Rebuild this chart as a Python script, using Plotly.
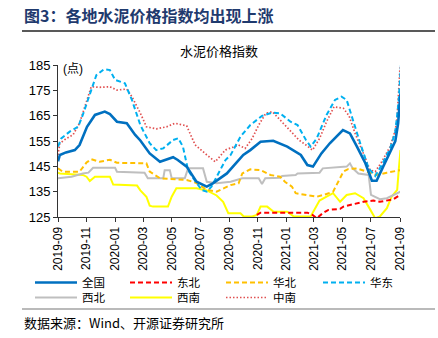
import plotly.graph_objects as go

# ---- cement price index by region (points) ----
qg_dates = ["2019-09-01", "2019-09-05", "2019-09-18", "2019-10-07", "2019-10-17", "2019-11-02",
            "2019-11-19", "2019-12-10", "2019-12-21", "2020-01-05", "2020-01-26", "2020-02-13",
            "2020-02-24", "2020-03-15", "2020-04-06", "2020-05-04", "2020-05-14", "2020-06-02",
            "2020-06-23", "2020-07-15", "2020-07-28", "2020-08-27", "2020-10-01", "2020-10-16",
            "2020-11-07", "2020-12-04", "2021-01-03", "2021-02-01", "2021-02-15", "2021-02-27",
            "2021-03-17", "2021-04-04", "2021-05-02", "2021-05-17", "2021-06-01", "2021-06-19",
            "2021-07-03", "2021-07-13", "2021-07-27", "2021-08-11", "2021-08-22", "2021-08-28",
            "2021-09-02"]
qg_vals = [147.0, 149.5, 150.5, 151.4, 153.4, 160.6, 165.3, 166.6, 165.6, 162.6, 162.0, 157.4,
           155.2, 150.1, 146.8, 148.6, 147.5, 144.9, 138.9, 137.0, 138.3, 142.2, 149.5, 151.4,
           154.7, 155.1, 152.8, 149.5, 145.5, 144.9, 150.1, 154.1, 159.3, 158.0, 152.8, 146.2,
           139.3, 139.3, 144.9, 150.5, 155.0, 162.0, 173.8]

db_dates = ["2020-10-30", "2020-11-07", "2021-02-15", "2021-02-26", "2021-03-07", "2021-03-20",
            "2021-04-01", "2021-04-26", "2021-05-03", "2021-05-24", "2021-06-15", "2021-07-06",
            "2021-07-20", "2021-08-18", "2021-09-01"]
db_vals = [125.8, 126.7, 126.7, 125.8, 124.5, 126.5, 127.8, 128.2, 129.1, 130.1, 131.0, 131.5,
           131.0, 132.0, 133.7]

hb_dates = ["2019-09-01", "2019-09-11", "2019-10-17", "2019-11-01", "2019-11-11", "2019-11-29",
            "2019-12-21", "2020-01-05", "2020-03-08", "2020-03-15", "2020-04-06", "2020-06-02",
            "2020-06-22", "2020-07-15", "2020-08-05", "2020-09-04", "2020-09-21", "2020-09-29",
            "2020-10-16", "2020-11-07", "2020-11-28", "2020-12-19", "2020-12-29", "2021-01-13",
            "2021-01-21", "2021-02-15", "2021-03-07", "2021-03-28", "2021-04-11", "2021-04-22",
            "2021-05-03", "2021-05-13", "2021-06-01", "2021-06-22", "2021-07-13", "2021-08-04",
            "2021-09-02"]
hb_vals = [144.2, 142.9, 142.9, 146.5, 147.8, 146.8, 147.6, 146.4, 146.2, 142.9, 140.3, 139.6,
           138.5, 135.7, 135.0, 137.6, 138.3, 142.2, 143.8, 143.5, 141.6, 140.9, 138.9, 137.0,
           134.4, 133.7, 133.0, 134.1, 135.0, 138.9, 142.9, 143.9, 144.2, 142.9, 141.6, 142.5,
           143.5]

hd_dates = ["2019-09-01", "2019-09-08", "2019-09-26", "2019-10-14", "2019-10-24", "2019-11-08",
            "2019-11-22", "2019-12-08", "2019-12-21", "2020-01-01", "2020-01-22", "2020-02-06",
            "2020-02-24", "2020-03-15", "2020-03-29", "2020-04-13", "2020-05-04", "2020-05-15",
            "2020-05-25", "2020-06-05", "2020-06-16", "2020-07-04", "2020-07-15", "2020-07-25",
            "2020-08-13", "2020-08-24", "2020-09-04", "2020-09-25", "2020-10-16", "2020-11-10",
            "2020-12-02", "2020-12-19", "2021-01-10", "2021-01-25", "2021-02-12", "2021-02-22",
            "2021-03-07", "2021-03-28", "2021-04-15", "2021-04-29", "2021-05-10", "2021-05-21",
            "2021-06-08", "2021-06-26", "2021-07-10", "2021-07-24", "2021-08-11", "2021-08-22",
            "2021-08-29", "2021-09-03"]
hd_vals = [152.8, 156.0, 158.7, 160.6, 165.3, 173.8, 181.0, 183.3, 183.0, 179.1, 177.8, 171.2,
           161.3, 154.1, 151.4, 152.1, 155.4, 156.1, 152.8, 143.5, 140.3, 135.7, 135.0, 137.0,
           143.5, 147.5, 149.5, 156.7, 161.3, 164.9, 166.2, 165.9, 162.6, 161.3, 155.4, 152.8,
           156.0, 165.3, 171.2, 172.5, 171.2, 164.6, 154.1, 144.2, 141.2, 145.5, 152.1, 158.7,
           170.5, 185.0]

xb_dates = ["2019-09-01", "2019-09-30", "2019-10-24", "2019-11-05", "2019-11-15", "2020-01-01",
            "2020-01-05", "2020-03-04", "2020-03-11", "2020-04-13", "2020-04-16", "2020-04-27",
            "2020-05-01", "2020-05-29", "2020-06-05", "2020-07-07", "2020-07-15", "2020-08-05",
            "2020-09-04", "2020-09-29", "2020-11-03", "2020-11-10", "2020-11-17", "2020-12-19",
            "2020-12-23", "2021-01-21", "2021-01-25", "2021-03-13", "2021-03-20", "2021-05-10",
            "2021-05-17", "2021-05-23", "2021-06-04", "2021-06-26", "2021-07-01", "2021-07-20",
            "2021-08-04", "2021-08-11", "2021-08-26", "2021-09-02"]
xb_vals = [140.3, 140.9, 142.2, 142.5, 144.4, 144.4, 142.9, 142.5, 140.3, 140.3, 143.5, 143.5,
           140.3, 140.3, 144.2, 144.2, 138.9, 138.3, 138.9, 140.3, 140.3, 138.0, 140.3, 140.5,
           141.2, 141.6, 142.2, 142.5, 144.2, 144.9, 146.2, 144.2, 142.2, 141.6, 133.7, 132.0,
           132.4, 133.0, 134.4, 135.0]

xn_dates = ["2019-09-01", "2019-09-05", "2019-10-24", "2019-11-01", "2019-11-08", "2019-11-19",
            "2019-12-21", "2019-12-28", "2020-02-17", "2020-02-24", "2020-03-08", "2020-03-15",
            "2020-03-22", "2020-04-23", "2020-05-01", "2020-05-11", "2020-06-23", "2020-07-15",
            "2020-08-05", "2020-08-19", "2020-08-30", "2020-09-25", "2020-10-02", "2020-10-20",
            "2020-10-30", "2020-11-07", "2020-11-21", "2020-12-05", "2021-01-03", "2021-01-17",
            "2021-02-22", "2021-03-07", "2021-03-13", "2021-03-28", "2021-04-11", "2021-04-26",
            "2021-05-10", "2021-05-28", "2021-06-15", "2021-06-26", "2021-07-03", "2021-07-10",
            "2021-07-20", "2021-08-04", "2021-08-14", "2021-08-26", "2021-08-29", "2021-09-02"]
xn_vals = [142.5, 142.2, 141.6, 140.9, 139.2, 140.9, 140.9, 137.8, 137.4, 135.5, 133.0, 129.5,
           129.1, 129.1, 133.0, 136.3, 136.3, 135.5, 133.5, 131.0, 126.5, 126.5, 125.2, 125.2,
           125.8, 129.1, 129.1, 127.1, 127.1, 125.2, 125.2, 129.5, 131.5, 133.0, 134.4, 131.0,
           133.7, 134.4, 132.4, 129.0, 126.5, 124.5, 125.2, 128.5, 133.0, 135.7, 142.9, 151.4]

zn_dates = ["2019-09-01", "2019-09-05", "2019-09-19", "2019-10-03", "2019-10-17", "2019-10-28",
            "2019-11-11", "2019-11-29", "2019-12-21", "2020-01-05", "2020-01-26", "2020-02-06",
            "2020-02-24", "2020-03-08", "2020-03-29", "2020-04-20", "2020-05-08", "2020-06-02",
            "2020-06-20", "2020-07-15", "2020-08-02", "2020-08-24", "2020-09-21", "2020-10-05",
            "2020-10-20", "2020-11-03", "2020-11-18", "2020-12-02", "2020-12-19", "2021-01-10",
            "2021-01-28", "2021-02-12", "2021-02-26", "2021-03-13", "2021-03-28", "2021-04-13",
            "2021-05-03", "2021-05-15", "2021-05-28", "2021-06-15", "2021-06-29", "2021-07-10",
            "2021-07-23", "2021-08-11", "2021-08-22", "2021-08-26", "2021-09-01"]
zn_vals = [149.5, 154.1, 156.0, 157.4, 162.0, 168.5, 176.4, 176.2, 176.4, 175.1, 175.5, 172.5,
           166.0, 160.6, 159.8, 160.6, 162.0, 161.0, 153.5, 149.5, 146.8, 151.5, 153.4, 152.1,
           156.0, 161.3, 165.9, 166.6, 163.3, 158.7, 155.4, 153.4, 151.4, 156.0, 162.6, 168.5,
           167.9, 165.0, 158.0, 150.0, 143.5, 142.9, 146.5, 152.8, 159.3, 164.6, 184.0]

x_ticks_start, x_ticks_end = "2019-09-01", "2021-09-01"
y_min, y_max, y_step = 125, 185, 10

# ---- page geometry ----
W, H = 438, 338
ML, MR, MT, MB = 58, 38, 65, 121
PW, PH = W - ML - MR, H - MT - MB


def px_x(x):
    return (x - ML) / PW


def px_y(y):
    return (H - MB - y) / PH


FONT = "Liberation Sans, Arial, Noto Sans CJK SC"

# legend slots: (left edge px, row centre px)
COLS = [30, 125, 221, 318]
ROWS = [282.5, 297.5]

# name, dates, values, colour, width, dash, legend slot (col, row)
# (traces are drawn in list order, so the national line ends up on top)
series = [
    ("西南", xn_dates, xn_vals, "#FFFF00", 2.0, "solid", (1, 1)),
    ("西北", xb_dates, xb_vals, "#BFBFBF", 2.0, "solid", (0, 1)),
    ("东北", db_dates, db_vals, "#FF0000", 2.0, "5px,3px", (1, 0)),
    ("华北", hb_dates, hb_vals, "#FFC000", 2.0, "5px,3px", (2, 0)),
    ("中南", zn_dates, zn_vals, "#E05050", 1.7, "1.5px,2px", (2, 1)),
    ("华东", hd_dates, hd_vals, "#00B0F0", 2.0, "5px,3px", (3, 0)),
    ("全国", qg_dates, qg_vals, "#0070C0", 2.6, "solid", (0, 0)),
]

fig = go.Figure()
legends = {}
for i, (name, d, v, color, w, dash, (col, row)) in enumerate(series):
    key = "legend" if i == 0 else f"legend{i + 1}"
    fig.add_trace(go.Scatter(
        x=d, y=v, name=name, mode="lines", legend=key,
        line=dict(color=color, width=w, dash=dash),
        hoverinfo="skip",
    ))
    legends[key] = dict(
        x=px_x(COLS[col]), y=px_y(ROWS[row]),
        orientation="h", xanchor="left", yanchor="middle", itemwidth=42,
        font=dict(family="Noto Sans CJK SC", size=11.5),
        bgcolor="rgba(0,0,0,0)", borderwidth=0,
    )

fig.update_layout(
    width=W, height=H,
    margin=dict(l=ML, r=MR, t=MT, b=MB, pad=0),
    paper_bgcolor="white", plot_bgcolor="white",
    font=dict(family=FONT, size=12, color="#000000"),
    showlegend=True,
    xaxis=dict(
        type="date", range=[x_ticks_start, x_ticks_end],
        tick0=x_ticks_start, dtick="M2", tickformat="%Y-%m",
        tickangle=-90, ticks="outside", ticklen=4, tickcolor="#333",
        showline=True, linecolor="#333", linewidth=1,
        showgrid=False, zeroline=False,
        tickfont=dict(family=FONT, size=12),
    ),
    yaxis=dict(
        range=[y_min, y_max], dtick=y_step, tick0=y_min,
        ticks="outside", ticklen=4, tickcolor="#333",
        showline=True, linecolor="#333", linewidth=1,
        showgrid=False, zeroline=False,
        tickfont=dict(family=FONT, size=13),
    ),
    **legends,
)

# headline, rules, captions
fig.add_annotation(
    text="<b>图3：各地水泥价格指数均出现上涨</b>", xref="paper", yref="paper",
    x=px_x(22), y=px_y(15), xanchor="left", yanchor="middle", showarrow=False,
    font=dict(family="Noto Sans CJK SC", size=16, color="#1F3A6E"),
)
fig.add_shape(type="line", xref="paper", yref="paper",
              x0=px_x(22), x1=px_x(435), y0=px_y(31), y1=px_y(31),
              line=dict(color="#222222", width=1.5))
fig.add_annotation(
    text="水泥价格指数", xref="paper", yref="paper",
    x=px_x(W / 2), y=px_y(50), xanchor="center", yanchor="middle", showarrow=False,
    font=dict(family="Noto Sans CJK SC", size=13, color="#000000"),
)
fig.add_annotation(
    text="(点)", xref="paper", yref="paper",
    x=px_x(61), y=px_y(69), xanchor="left", yanchor="middle", showarrow=False,
    font=dict(family=FONT, size=12, color="#000000"),
)
fig.add_shape(type="line", xref="paper", yref="paper",
              x0=px_x(22), x1=px_x(435), y0=px_y(309), y1=px_y(309),
              line=dict(color="#777777", width=1.2))
fig.add_annotation(
    text="数据来源：Wind、开源证券研究所", xref="paper", yref="paper",
    x=px_x(22), y=px_y(322), xanchor="left", yanchor="middle", showarrow=False,
    font=dict(family="Noto Sans CJK SC, Liberation Serif", size=13, color="#000000"),
)

fig.write_html("out.html")
